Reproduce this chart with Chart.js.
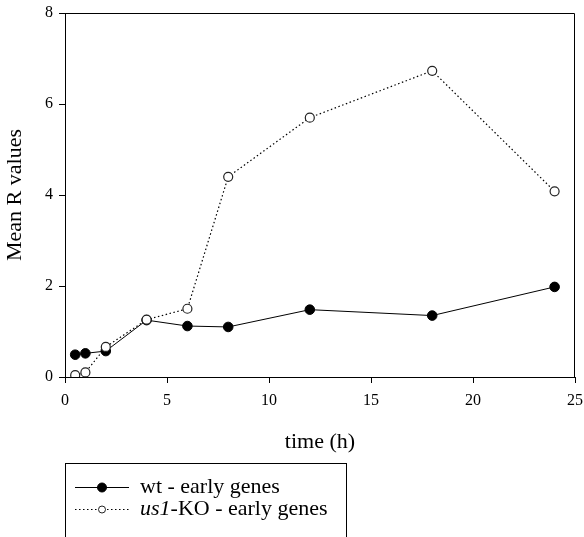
<!DOCTYPE html>
<html lang="en">
<head>
    <meta charset="UTF-8">
    <title>Mean R values over time</title>
    <script src="https://cdn.jsdelivr.net/npm/chart.js"></script>
    <style>
        html, body { margin: 0; padding: 0; background: #fff; }
        #chart { display: block; }
    </style>
</head>
<body>
    <canvas id="chart" width="584" height="537"></canvas>
    <script>
        // time points (h) and mean R values per group
        const times = [0.5, 1, 2, 4, 6, 8, 12, 18, 24];
        const wtValues = [0.49, 0.52, 0.57, 1.25, 1.12, 1.10, 1.48, 1.35, 1.98];
        const koValues = [0.04, 0.10, 0.66, 1.26, 1.50, 4.40, 5.70, 6.73, 4.08];
        const xTicks = [0, 5, 10, 15, 20, 25];
        const yTicks = [0, 2, 4, 6, 8];

        const serif = '"Liberation Serif", "Times New Roman", serif';

        const toPoints = (vals) => times.map((t, i) => ({ x: t, y: vals[i] }));

        // box around the plot area (top and right sides)
        const frame = {
            id: 'frame',
            afterDatasetsDraw(chart) {
                const { ctx, chartArea: a } = chart;
                ctx.save();
                ctx.strokeStyle = '#000';
                ctx.lineWidth = 1;
                ctx.beginPath();
                ctx.moveTo(a.left, a.top + 0.5);
                ctx.lineTo(a.right - 0.5, a.top + 0.5);
                ctx.lineTo(a.right - 0.5, a.bottom);
                ctx.stroke();
                ctx.restore();
            }
        };

        // boxed legend under the x axis title
        const boxLegend = {
            id: 'boxLegend',
            afterDraw(chart) {
                const { ctx } = chart;
                const [ko, wt] = chart.data.datasets;
                const rows = [
                    { ds: wt, r: 4.5, parts: [['wt - early genes', 'normal']], y: 487 },
                    { ds: ko, r: 3.5, parts: [['us1', 'italic'], ['-KO - early genes', 'normal']], y: 509 }
                ];
                ctx.save();
                ctx.strokeStyle = '#000';
                ctx.lineWidth = 1;
                ctx.strokeRect(65.5, 463.5, 281, 120);
                rows.forEach(row => {
                    ctx.strokeStyle = row.ds.borderColor;
                    ctx.lineWidth = row.ds.borderWidth;
                    ctx.setLineDash(row.ds.borderDash || []);
                    ctx.beginPath();
                    ctx.moveTo(75, row.y + 0.5);
                    ctx.lineTo(129, row.y + 0.5);
                    ctx.stroke();
                    ctx.setLineDash([]);
                    ctx.beginPath();
                    ctx.arc(102, row.y + 0.5, row.r, 0, Math.PI * 2);
                    ctx.fillStyle = row.ds.pointBackgroundColor;
                    ctx.fill();
                    ctx.strokeStyle = row.ds.pointBorderColor;
                    ctx.lineWidth = 1;
                    ctx.stroke();

                    let x = 140;
                    ctx.fillStyle = '#000';
                    ctx.textBaseline = 'middle';
                    row.parts.forEach(([text, style]) => {
                        ctx.font = style + ' 22px ' + serif;
                        ctx.fillText(text, x, row.y);
                        x += ctx.measureText(text).width;
                    });
                });
                ctx.restore();
            }
        };

        new Chart(document.getElementById('chart'), {
            type: 'line',
            data: {
                datasets: [
                    {
                        label: 'us1-KO - early genes',
                        data: toPoints(koValues),
                        borderColor: '#000',
                        borderWidth: 1.2,
                        borderDash: [1.5, 2.5],
                        pointBackgroundColor: '#fff',
                        pointBorderColor: '#222',
                        pointBorderWidth: 1.2,
                        pointRadius: 4.5,
                        tension: 0,
                        order: 0
                    },
                    {
                        label: 'wt - early genes',
                        data: toPoints(wtValues),
                        borderColor: '#000',
                        borderWidth: 1,
                        pointBackgroundColor: '#000',
                        pointBorderColor: '#000',
                        pointBorderWidth: 1,
                        pointRadius: 4.8,
                        tension: 0,
                        order: 1
                    }
                ]
            },
            options: {
                responsive: false,
                animation: false,
                events: [],
                layout: { padding: { top: 13, right: 9, bottom: 82, left: 0 } },
                plugins: {
                    legend: { display: false },
                    tooltip: { enabled: false }
                },
                scales: {
                    x: {
                        type: 'linear',
                        min: 0,
                        max: 25,
                        afterFit: s => {
                            s.height = 78;
                            s.paddingLeft = 0;
                            s.paddingRight = 0;
                        },
                        afterBuildTicks: s => { s.ticks = xTicks.map(v => ({ value: v })); },
                        border: { display: true, color: '#000', width: 1 },
                        grid: { display: true, drawOnChartArea: false, drawTicks: true, tickLength: 6, color: '#000' },
                        ticks: { color: '#000', padding: 8, maxRotation: 0, font: { family: serif, size: 16 } },
                        title: {
                            display: true,
                            text: 'time (h)',
                            color: '#000',
                            padding: { top: 0, bottom: 0 },
                            font: { family: serif, size: 22 }
                        }
                    },
                    y: {
                        min: 0,
                        max: 8,
                        afterFit: s => {
                            s.width = 65;
                            s.paddingTop = 0;
                            s.paddingBottom = 0;
                        },
                        afterBuildTicks: s => { s.ticks = yTicks.map(v => ({ value: v })); },
                        border: { display: true, color: '#000', width: 1 },
                        grid: { display: true, drawOnChartArea: false, drawTicks: true, tickLength: 6, color: '#000' },
                        ticks: { color: '#000', padding: 6, font: { family: serif, size: 16 } },
                        title: {
                            display: true,
                            text: 'Mean R values',
                            color: '#000',
                            padding: { top: 2, bottom: 0 },
                            font: { family: serif, size: 22 }
                        }
                    }
                }
            },
            plugins: [frame, boxLegend]
        });
    </script>
</body>
</html>
